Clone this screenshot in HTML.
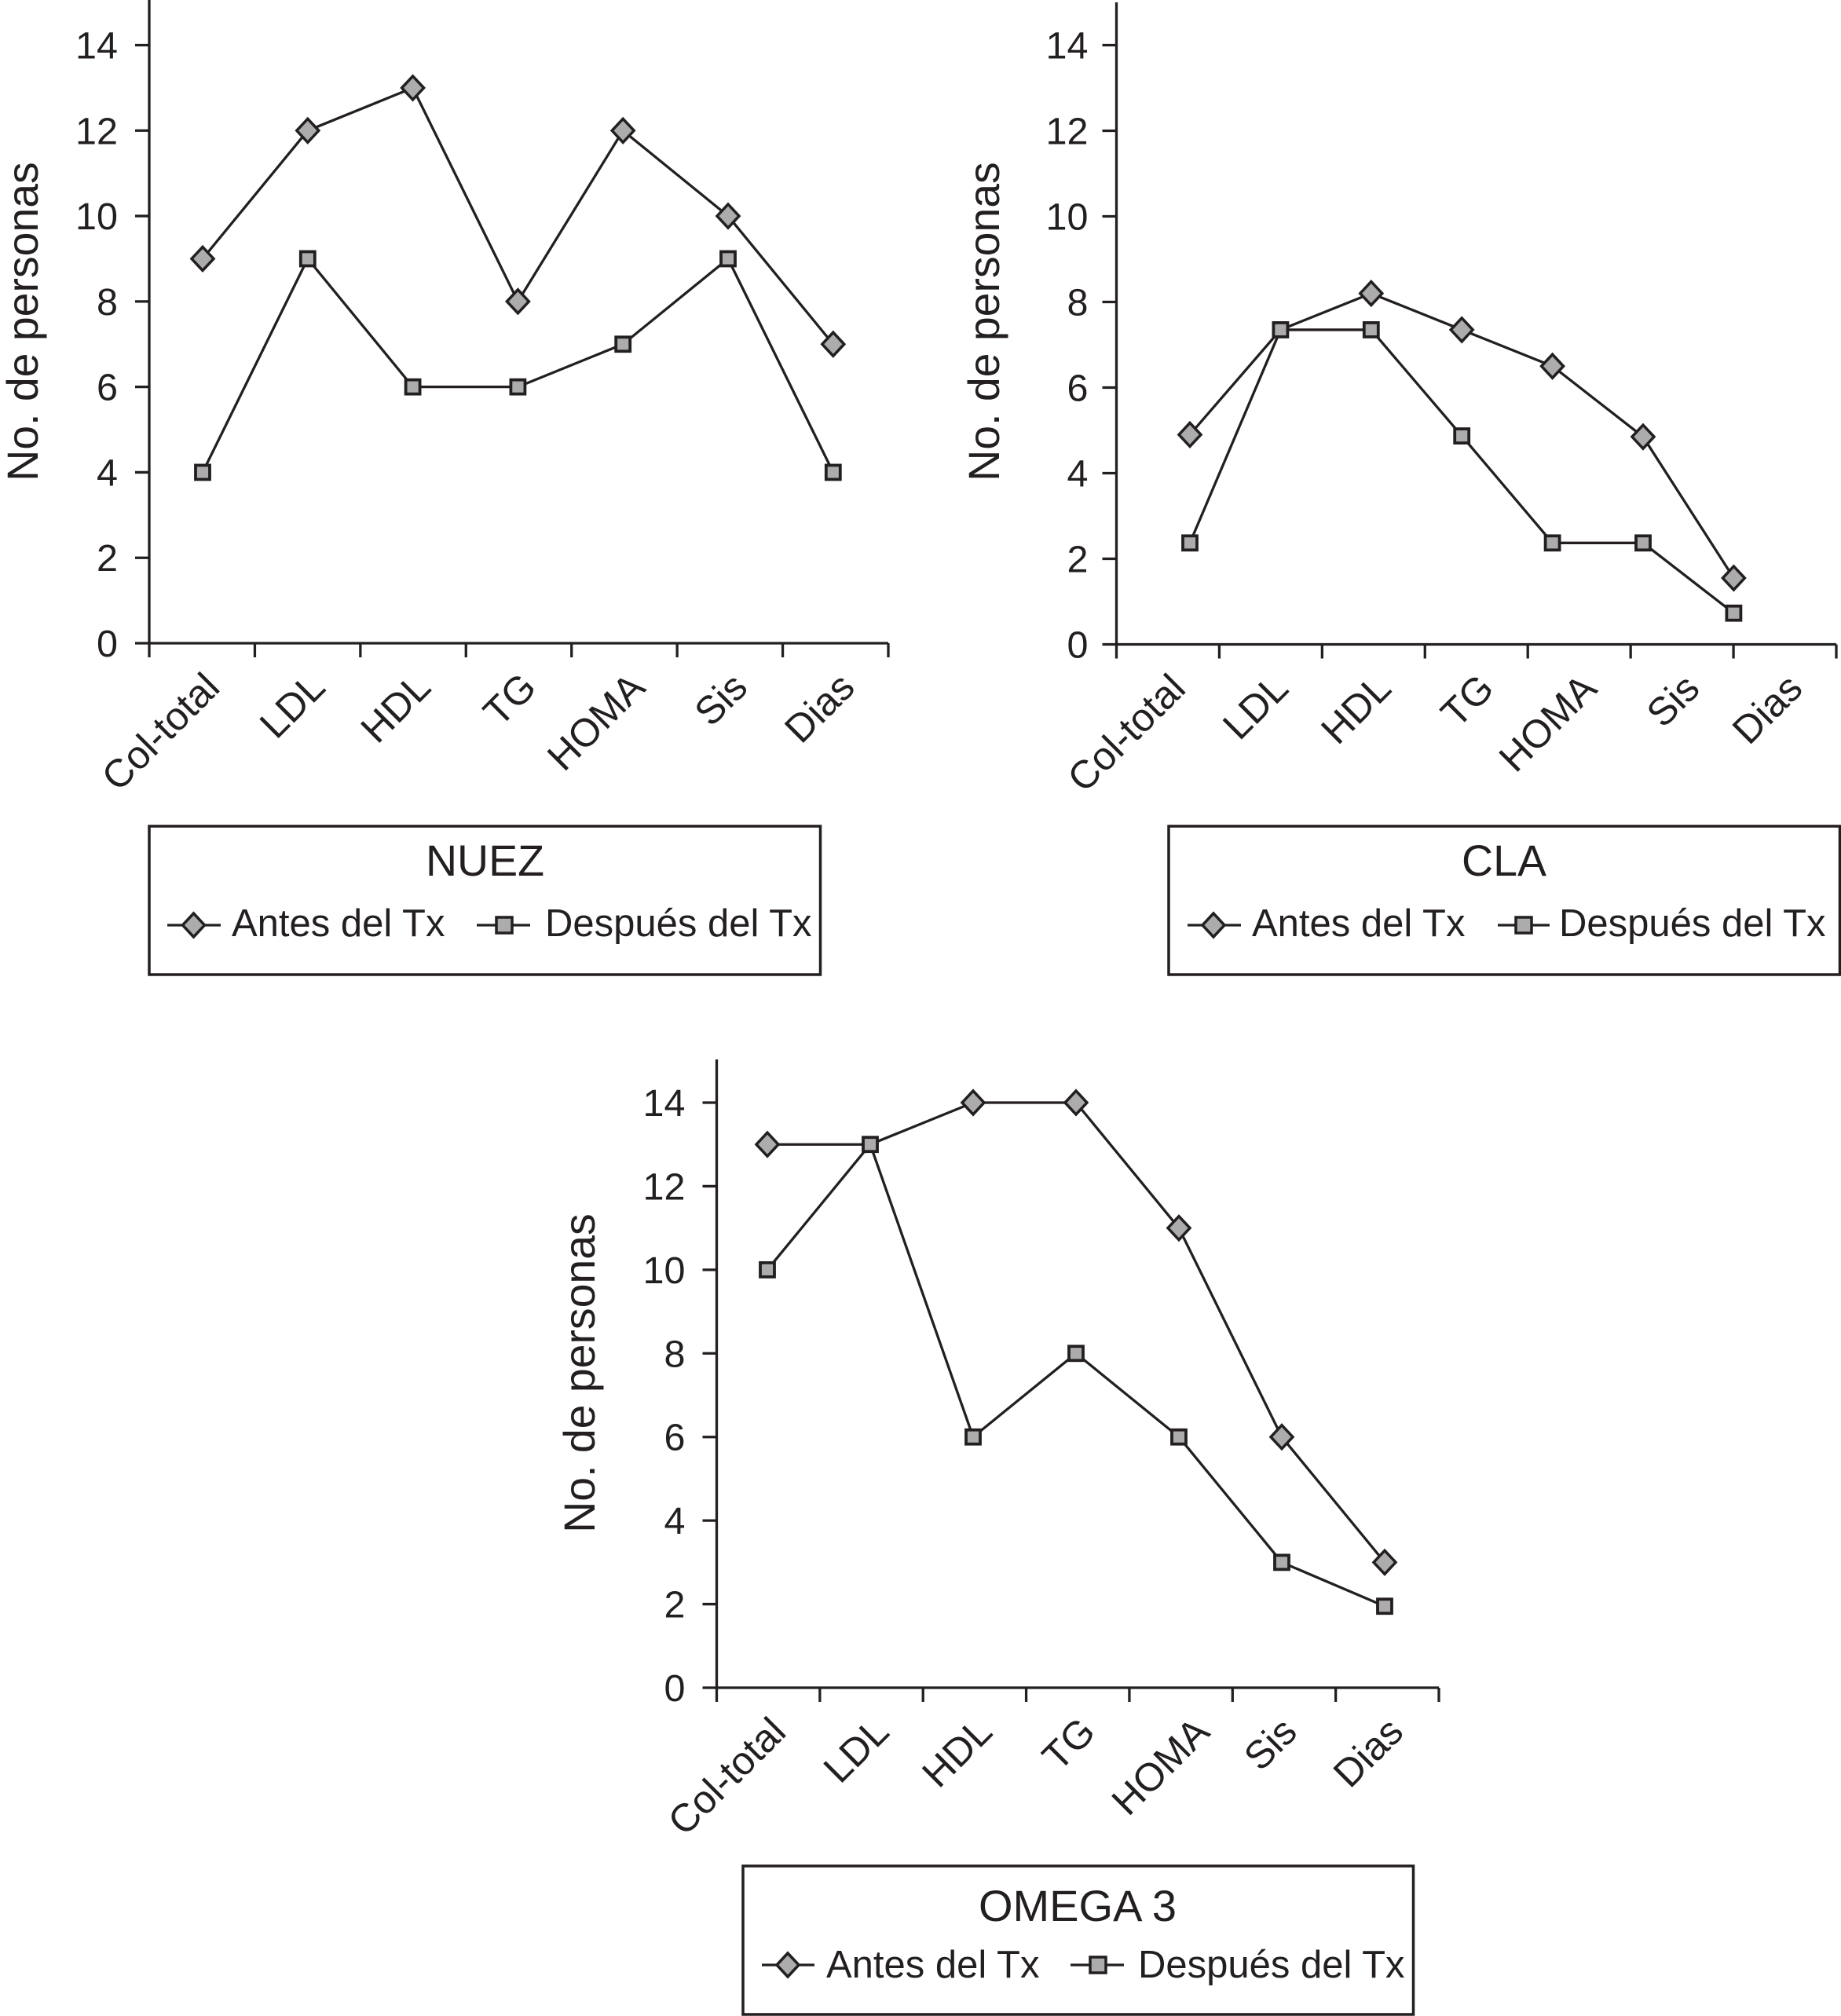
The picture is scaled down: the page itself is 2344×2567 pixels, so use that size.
<!DOCTYPE html>
<html lang="es">
<head>
<meta charset="utf-8">
<title>Antes y después del Tx: NUEZ, CLA, OMEGA 3</title>
<style>
html,body{margin:0;padding:0;background:#fff;}
svg{display:block;font-family:"Liberation Sans",Arial,sans-serif;fill:#231f20;}
</style>
</head>
<body>
<svg id="figure" xmlns="http://www.w3.org/2000/svg" width="2344" height="2567" viewBox="0 0 2344 2567">
  <rect width="2344" height="2567" fill="#fff"/>

  <g id="chart-nuez"></g>
  <text font-size="55.400" text-anchor="middle" transform="translate(48,409.500) rotate(-90)">No. de personas</text>
  <g>
    <rect x="190" y="1052" width="854.500" height="189" fill="#fff" stroke="#231f20" stroke-width="3.500"/>
    <text x="617.500" y="1115" font-size="55.500" text-anchor="middle">NUEZ</text>
    <line x1="213" y1="1178" x2="281" y2="1178" stroke="#231f20" stroke-width="3.300"/>
    <path d="M246.500 1163 L260.500 1178 L246.500 1193 L232.500 1178 Z" fill="#acacac" stroke="#231f20" stroke-width="3.500"/>
    <text x="295" y="1192" font-size="49">Antes del Tx</text>
    <line x1="607" y1="1178" x2="675" y2="1178" stroke="#231f20" stroke-width="3.300"/>
    <rect x="632" y="1168" width="20" height="20" fill="#acacac" stroke="#231f20" stroke-width="3.500"/>
    <text x="694" y="1192" font-size="49">Después del Tx</text>
  </g>

  <g id="chart-cla"></g>
  <text font-size="55.400" text-anchor="middle" transform="translate(1272,409.500) rotate(-90)">No. de personas</text>
  <g>
    <rect x="1488" y="1052" width="854.500" height="189" fill="#fff" stroke="#231f20" stroke-width="3.500"/>
    <text x="1915" y="1115" font-size="55.500" text-anchor="middle">CLA</text>
    <line x1="1512" y1="1178" x2="1580" y2="1178" stroke="#231f20" stroke-width="3.300"/>
    <path d="M1545 1163 L1559 1178 L1545 1193 L1531 1178 Z" fill="#acacac" stroke="#231f20" stroke-width="3.500"/>
    <text x="1594" y="1192" font-size="49">Antes del Tx</text>
    <line x1="1907" y1="1178" x2="1973" y2="1178" stroke="#231f20" stroke-width="3.300"/>
    <rect x="1930" y="1168" width="20" height="20" fill="#acacac" stroke="#231f20" stroke-width="3.500"/>
    <text x="1985" y="1192" font-size="49">Después del Tx</text>
  </g>

  <g id="chart-omega"></g>
  <text font-size="55.400" text-anchor="middle" transform="translate(757,1748.500) rotate(-90)">No. de personas</text>
  <g>
    <rect x="946" y="2376" width="853.500" height="189" fill="#fff" stroke="#231f20" stroke-width="3.500"/>
    <text x="1372" y="2446" font-size="56" text-anchor="middle">OMEGA 3</text>
    <line x1="970" y1="2502" x2="1037" y2="2502" stroke="#231f20" stroke-width="3.300"/>
    <path d="M1003 2487 L1017 2502 L1003 2517 L989 2502 Z" fill="#acacac" stroke="#231f20" stroke-width="3.500"/>
    <text x="1052" y="2518" font-size="49">Antes del Tx</text>
    <line x1="1363" y1="2502" x2="1431" y2="2502" stroke="#231f20" stroke-width="3.300"/>
    <rect x="1388" y="2492" width="20" height="20" fill="#acacac" stroke="#231f20" stroke-width="3.500"/>
    <text x="1449" y="2518" font-size="49">Después del Tx</text>
  </g>
</svg>
<script>
var categories = ["Col-total", "LDL", "HDL", "TG", "HOMA", "Sis", "Dias"];
var yTicks = [0, 2, 4, 6, 8, 10, 12, 14];

var nuezAntes = [9, 12, 13, 8, 12, 10, 7];
var nuezDespues = [4, 9, 6, 6, 7, 9, 4];

var claAntes = [4.9, 7.35, 8.2, 7.35, 6.5, 4.85, 1.55];
var claDespues = [2.37, 7.35, 7.35, 4.87, 2.37, 2.37, 0.73];

var omegaAntes = [13, 13, 14, 14, 11, 6, 3];
var omegaDespues = [10, 13, 6, 8, 6, 3, 1.95];

var SVG_NS = "http://www.w3.org/2000/svg";
var INK = "#231f20";
var MARKER_FILL = "#acacac";
var LINE_W = 3.3;

function make(tag, attrs, parent) {
  var node = document.createElementNS(SVG_NS, tag);
  for (var k in attrs) { node.setAttribute(k, attrs[k]); }
  parent.appendChild(node);
  return node;
}

function drawChart(host, opts, antes, despues) {
  function yScale(v) { return opts.y0 - v * (opts.y0 - opts.y14) / 14; }
  var band = (opts.xRight - opts.x0) / categories.length;
  function bandEdge(i) { return opts.x0 + i * band; }
  function bandCenter(i) { return opts.x0 + (i + 0.5) * band; }
  function pointX(i) { return opts.pointStart + i * opts.pointStep; }

  var yAxis = make("line", {x1: opts.x0, y1: opts.top, x2: opts.x0, y2: opts.y0, stroke: INK, "stroke-width": LINE_W}, host);
  
  
  var xAxis = make("line", {x1: opts.x0, y1: opts.y0, x2: opts.xRight, y2: opts.y0, stroke: INK, "stroke-width": LINE_W}, host);
  
  

  yTicks.forEach(function (v) {
    var t = make("line", {x1: opts.x0 - 18, y1: yScale(v), x2: opts.x0, y2: yScale(v), stroke: INK, "stroke-width": LINE_W}, host);
    
    
    var lab = make("text", {x: opts.x0 - opts.labelGap, y: yScale(v) + 17, "font-size": 48.5, "text-anchor": "end"}, host);
    
    
    lab.textContent = v;
  });

  for (var e = 0; e <= categories.length; e++) {
    var xt = make("line", {x1: bandEdge(e), y1: opts.y0, x2: bandEdge(e), y2: opts.y0 + 18, stroke: INK, "stroke-width": LINE_W}, host);
    
    
  }

  categories.forEach(function (c, i) {
    var ax = bandCenter(i) + 25 + (opts.labelNudge[i] || 0), ay = opts.y0 + 59;
    var lab = make("text", {x: ax, y: ay, "font-size": 50, "text-anchor": "end", transform: "rotate(-45 " + ax + " " + ay + ")"}, host);
    
    
    lab.textContent = c;
  });

  function linePoints(values) {
    return values.map(function (v, i) { return pointX(i) + "," + yScale(v); }).join(" ");
  }

  var lineA = make("polyline", {points: linePoints(antes), fill: "none", stroke: INK, "stroke-width": LINE_W}, host);
  
  
  var lineD = make("polyline", {points: linePoints(despues), fill: "none", stroke: INK, "stroke-width": LINE_W}, host);
  
  

  antes.forEach(function (v, i) {
    if (Math.abs(v - despues[i]) < 0.01) { return; } // fully hidden by the square in the source figure
    var cx = pointX(i), cy = yScale(v);
    var d = "M" + cx + " " + (cy - 15) + " L" + (cx + 14) + " " + cy + " L" + cx + " " + (cy + 15) + " L" + (cx - 14) + " " + cy + " Z";
    var m = make("path", {d: d, fill: MARKER_FILL, stroke: INK, "stroke-width": 3.5}, host);
    
    
  });
  despues.forEach(function (v, i) {
    var m = make("rect", {x: pointX(i) - 9, y: yScale(v) - 9, width: 18, height: 18, fill: MARKER_FILL, stroke: INK, "stroke-width": 3.8}, host);
    
    
  });
}

drawChart(document.getElementById("chart-nuez"),
  {x0: 190, xRight: 1131, y0: 819, y14: 57.5, top: 0, labelGap: 40, pointStart: 258, pointStep: 133.8, labelNudge: [0, 0, 0, 0, 4, 0, 2]},
  nuezAntes, nuezDespues);
drawChart(document.getElementById("chart-cla"),
  {x0: 1421.5, xRight: 2338, y0: 820.5, y14: 57.5, top: 3, labelGap: 36, pointStart: 1515, pointStep: 115.4, labelNudge: [0, 0, 0, 0, 0, 0, 0]},
  claAntes, claDespues);
drawChart(document.getElementById("chart-omega"),
  {x0: 912.5, xRight: 1832, y0: 2149, y14: 1404, top: 1349, labelGap: 40, pointStart: 977, pointStep: 131, labelNudge: [0, 0, 0, 0, 14, -6, -2]},
  omegaAntes, omegaDespues);
</script>
</body>
</html>
